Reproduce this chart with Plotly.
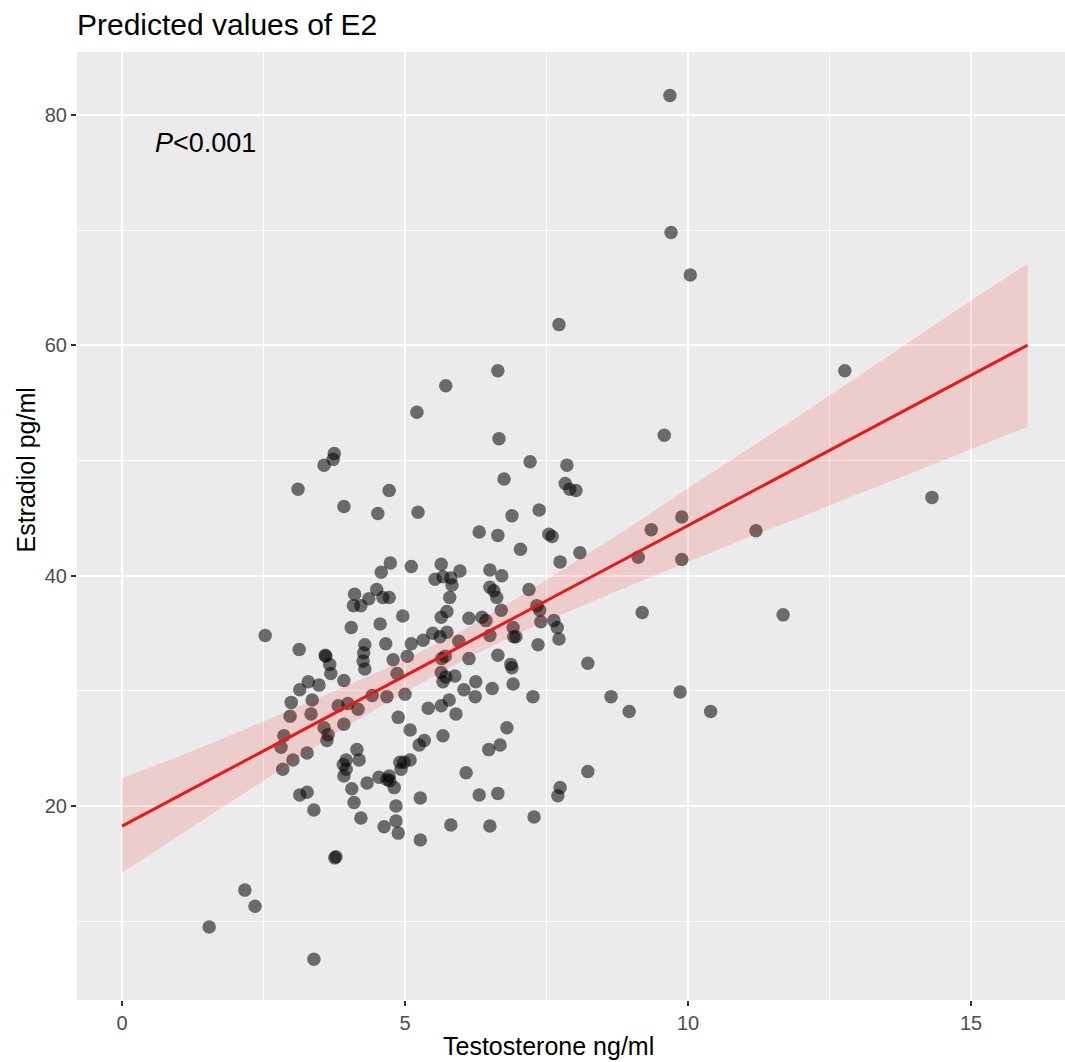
import plotly.graph_objects as go

# Scatter data (Testosterone ng/ml, Estradiol pg/ml)
testosterone = [
    9.68, 9.70, 10.04, 7.72, 12.77, 6.64, 5.72, 5.21, 9.58, 6.66, 3.75, 3.73, 3.57, 7.21, 7.86,
    6.75, 7.83, 7.91, 8.02, 4.72, 3.11, 14.31, 3.92, 4.52, 5.23, 6.89, 9.89, 7.37, 9.35, 11.2,
    6.31, 6.64, 7.54, 7.60, 7.04, 8.09, 9.12, 9.89, 7.74, 4.74, 5.11, 5.64, 5.97, 6.50, 4.58,
    5.67, 5.53, 5.81, 6.71, 5.83, 6.50, 6.57, 7.19, 4.50, 4.11, 4.61, 4.72, 4.36, 5.79, 6.62,
    4.09, 4.22, 7.33, 7.38, 6.70, 5.74, 9.19, 11.68, 4.96, 5.64, 6.13, 6.36, 6.43, 7.63, 7.40,
    7.69, 4.05, 4.56, 6.91, 2.53, 5.74, 5.49, 6.50, 6.92, 6.96, 7.72, 5.32, 5.95, 5.62, 5.11,
    4.66, 4.29, 7.35, 3.13, 3.59, 3.60, 4.27, 6.64, 5.71, 5.04, 4.79, 6.13, 5.65, 4.26, 3.67,
    8.23, 6.87, 6.89, 4.29, 3.69, 5.64, 4.86, 5.72, 5.88, 5.67, 6.25, 3.29, 3.48, 3.92, 6.91,
    6.54, 6.04, 3.14, 4.42, 5.00, 4.68, 8.64, 7.26, 9.86, 6.24, 5.78, 2.99, 3.36, 3.99, 3.82,
    4.17, 8.96, 10.40, 5.41, 5.64, 5.90, 2.97, 3.34, 4.88, 3.92, 3.57, 6.80, 5.09, 2.86, 3.64,
    5.67, 3.62, 5.34, 5.25, 6.68, 6.48, 2.81, 4.15, 3.27, 5.09, 3.02, 3.96, 4.19, 4.91, 4.98,
    3.91, 2.84, 3.96, 4.93, 8.23, 6.08, 3.92, 4.72, 4.54, 4.68, 4.73, 4.33, 4.06, 4.81, 7.74,
    6.64, 6.31, 3.14, 3.27, 7.70, 4.10, 5.27, 4.84, 3.39, 4.22, 7.28, 4.84, 4.63, 5.81, 6.50,
    4.88, 5.27, 3.76, 3.78, 2.17, 2.35, 1.54, 3.39,
]
estradiol = [
    81.7, 69.8, 66.1, 61.8, 57.8, 57.8, 56.5, 54.2, 52.2, 51.9, 50.6, 50.1, 49.6, 49.9, 49.6,
    48.4, 48.0, 47.5, 47.4, 47.4, 47.5, 46.8, 46.0, 45.4, 45.5, 45.2, 45.1, 45.7, 44.0, 43.9,
    43.8, 43.5, 43.6, 43.4, 42.3, 42.0, 41.6, 41.4, 41.2, 41.1, 40.8, 41.0, 40.4, 40.5, 40.3,
    39.9, 39.7, 39.8, 40.0, 39.2, 39.0, 38.7, 38.8, 38.8, 38.4, 38.1, 38.1, 38.0, 38.1, 38.1,
    37.4, 37.4, 37.4, 37.0, 37.0, 36.9, 36.8, 36.6, 36.5, 36.4, 36.3, 36.4, 36.1, 36.1, 36.0,
    35.5, 35.5, 35.8, 35.5, 34.8, 35.1, 35.0, 34.8, 34.7, 34.7, 34.5, 34.4, 34.3, 34.7, 34.1,
    34.1, 34.0, 34.0, 33.6, 33.1, 33.0, 33.3, 33.1, 33.0, 33.0, 32.7, 32.8, 32.8, 32.6, 32.3,
    32.4, 32.3, 32.0, 31.9, 31.5, 31.6, 31.5, 31.2, 31.3, 30.8, 30.8, 30.8, 30.5, 30.9, 30.6,
    30.2, 30.1, 30.1, 29.6, 29.7, 29.5, 29.5, 29.5, 29.9, 29.5, 29.2, 29.0, 29.2, 28.9, 28.7,
    28.4, 28.2, 28.2, 28.5, 28.7, 28.0, 27.8, 28.0, 27.7, 27.1, 26.8, 26.8, 26.6, 26.1, 26.2,
    26.1, 25.7, 25.7, 25.3, 25.3, 24.9, 25.1, 24.9, 24.6, 24.0, 24.0, 24.0, 24.0, 23.8, 23.8,
    23.6, 23.2, 23.2, 23.2, 23.0, 22.9, 22.6, 22.6, 22.5, 22.3, 22.2, 22.0, 21.5, 21.6, 21.6,
    21.1, 20.95, 20.95, 21.2, 20.9, 20.3, 20.7, 20.0, 19.65, 18.96, 19.05, 18.7, 18.2, 18.35, 18.26,
    17.65, 17.05, 15.5, 15.6, 12.7, 11.3, 9.5, 6.7,
]

# Fitted line and 95% CI
fit_x = [0, 1, 2, 3, 4, 5, 6, 7, 8, 9, 10, 11, 12, 13, 14, 15, 16]
fit_y = [18.26, 20.87, 23.48, 26.09, 28.70, 31.31, 33.92, 36.53, 39.14, 41.75, 44.36,
         46.97, 49.58, 52.19, 54.80, 57.41, 60.02]
ci_lo = [14.2, 17.4, 20.6, 23.8, 27.0, 29.9, 32.6, 35.0, 37.1, 39.2, 41.2, 43.2, 45.1,
         47.1, 49.0, 51.0, 52.9]
ci_hi = [22.4, 24.3, 26.3, 28.4, 30.5, 32.7, 35.2, 38.1, 41.2, 44.3, 47.6, 50.8, 54.0,
         57.3, 60.6, 63.9, 67.1]

x_ticks = [0, 5, 10, 15]
y_ticks = [20, 40, 60, 80]

FONT = "Liberation Sans, Arial, Helvetica, sans-serif"

fig = go.Figure()

fig.add_trace(go.Scatter(
    x=testosterone, y=estradiol, mode="markers",
    marker=dict(color="black", size=13.5, opacity=0.55, line=dict(width=0)),
    hoverinfo="skip", showlegend=False,
))

fig.add_trace(go.Scatter(
    x=fit_x + fit_x[::-1], y=ci_hi + ci_lo[::-1],
    fill="toself", fillcolor="rgba(255,0,0,0.13)", line=dict(width=0),
    mode="lines", hoverinfo="skip", showlegend=False,
))

fig.add_trace(go.Scatter(
    x=fit_x, y=fit_y, mode="lines",
    line=dict(color="#E41A1C", width=3),
    hoverinfo="skip", showlegend=False,
))

fig.add_annotation(
    x=0.54, y=77.55, xref="x", yref="y", text="<i>P</i>&lt;0.001",
    showarrow=False, xanchor="left", yanchor="middle",
    font=dict(family=FONT, size=27, color="black"),
)

# Axis titles (placed as annotations to match the reference's positions)
fig.add_annotation(
    x=(548.5 - 77) / 988, y=(1000 - 1045.5) / 948, xref="paper", yref="paper",
    text="Testosterone ng/ml", showarrow=False, xanchor="center", yanchor="middle",
    font=dict(family=FONT, size=25, color="black"),
)
fig.add_annotation(
    x=(25.5 - 77) / 988, y=(1000 - 470) / 948, xref="paper", yref="paper",
    text="Estradiol pg/ml", showarrow=False, xanchor="center", yanchor="middle",
    textangle=-90, font=dict(family=FONT, size=25, color="black"),
)

axis_common = dict(
    showgrid=True, gridcolor="white", gridwidth=2,
    zeroline=False, showline=False,
    ticks="outside", ticklen=5, tickwidth=1.5, tickcolor="#333333",
    tickfont=dict(family=FONT, size=20, color="#4D4D4D"),
    automargin=False,
)

fig.update_layout(
    width=1065, height=1062,
    paper_bgcolor="white", plot_bgcolor="#EBEBEB",
    margin=dict(l=77, r=0, t=52, b=62),
    title=dict(
        text="Predicted values of E2", x=77 / 1065, xanchor="left",
        y=1 - 24 / 1062, yanchor="middle", yref="container",
        font=dict(family=FONT, size=30, color="black"),
    ),
    xaxis=dict(
        range=[-0.795, 16.66], tickvals=x_ticks, ticktext=[str(v) for v in x_ticks],
        minor=dict(dtick=2.5, tick0=0, showgrid=True, gridcolor="white", gridwidth=1, ticks=""),
        **axis_common,
    ),
    yaxis=dict(
        range=[3.16, 85.47], tickvals=y_ticks, ticktext=[str(v) for v in y_ticks],
        minor=dict(dtick=10, tick0=0, showgrid=True, gridcolor="white", gridwidth=1, ticks=""),
        **axis_common,
    ),
    hovermode=False,
)

fig.write_html(
    "out.html",
    config={"displayModeBar": False},
    post_script="document.body.style.margin='0';document.body.style.overflow='hidden';",
)
